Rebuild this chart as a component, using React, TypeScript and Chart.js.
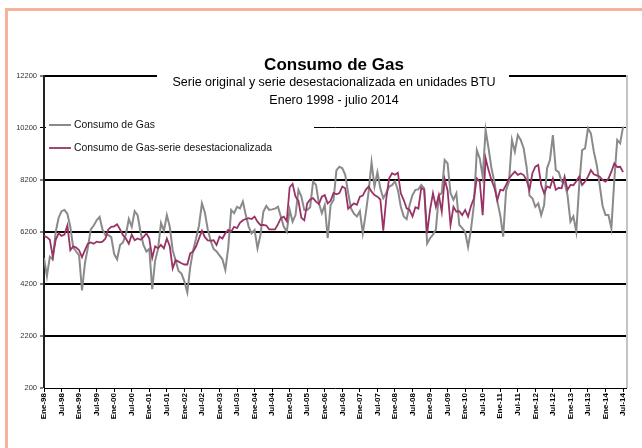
import React, { useEffect, useRef } from "react";
import { Chart, registerables } from "chart.js";

Chart.register(...registerables);

const MONTHS = ["Ene", "Feb", "Mar", "Abr", "May", "Jun", "Jul", "Ago", "Sep", "Oct", "Nov", "Dic"];
const START_YEAR = 1998;
const Y_MIN = 200;
const Y_MAX = 12200;
const Y_STEP = 2000;
const X_STEP = 6;

const TITLE = "Consumo de Gas";
const SUBTITLE = ["Serie original y serie desestacionalizada en unidades BTU", "Enero 1998 - julio 2014"];
const LEGEND = ["Consumo de Gas", "Consumo de Gas-serie desestacionalizada"];

// Enero 1998 .. julio 2014 (199 meses)
const consumo = [
  5200, 4500, 5250, 5150, 6200, 6750, 7000, 7050, 6900, 6400, 5600, 5450,
  5300, 3950, 5000, 5600, 6300, 6450, 6650, 6780, 6300, 6080, 6080, 6000,
  5350, 5150, 5700, 5800, 6100, 6700, 6400, 7000, 6850, 6200, 5700, 5450,
  5550, 4000, 5100, 5550, 6550, 6250, 6850, 6400, 5500, 5100, 4700, 4600,
  4300, 3880, 4850, 5500, 5950, 6450, 7300, 6950, 6300, 5850, 5550, 5450,
  5300, 5150, 4740, 5600, 7050, 6920, 7170, 7110, 7370, 6850, 6400, 6150,
  6280, 5570, 6080, 6980, 7200, 7050, 7070, 7100, 7170, 6790, 6400, 6210,
  7050, 6600, 6850, 7820, 7560, 7050, 7050, 7150, 8140, 8010, 7300, 6920,
  7240, 5960, 7240, 7430, 8580, 8710, 8650, 8400, 7700, 7100, 6900, 6800,
  7000, 6150, 6900, 7750, 8880, 7950, 8500, 7880, 7500, 7700, 7950, 8000,
  8150, 7820, 7170, 6800, 6700, 7240, 7620, 7820, 7840, 8010, 7880, 5760,
  5960, 6100, 6300, 7600, 7700, 8970, 8840, 7690, 7440, 7690, 6470, 6350,
  6200, 5620, 6300, 7240, 9350, 9030, 8330, 10120, 9420, 8650, 8140, 7370,
  6850, 6020, 7800, 8140, 9740, 9290, 9930, 9740, 9420, 8710, 7600, 7500,
  7170, 7300, 6850, 7240, 8650, 8970, 9930, 8580, 8500, 8140, 8100, 7620,
  6600, 6800, 6210, 8000, 9350, 9420, 10190, 9990, 9290, 8780, 8000, 7200,
  6850, 6850, 6340, 8200, 9740, 9610, 10250,
];

const desestacionalizada = [
  6050, 6000, 5900, 5250, 5900, 6150, 6050, 6100, 6450, 5500, 5650, 5600,
  5500, 5230, 5500, 5750, 5800, 5750, 5830, 5800, 5830, 5950, 6300, 6400,
  6420, 6500, 6300, 6080, 5950, 5750, 6100, 5880, 5950, 5900, 6000, 6150,
  5950, 5200, 5650, 5570, 5700, 5570, 5950, 5650, 4800, 5120, 5060, 5000,
  4950, 4950, 5380, 5450, 5650, 5950, 6250, 6000, 5880, 5870, 5880, 5700,
  6020, 5950, 6150, 6280, 6220, 6400, 6350, 6550, 6650, 6700, 6730, 6700,
  6790, 6600, 6470, 6470, 6450, 6300, 6300, 6300, 6500, 6730, 6790, 6620,
  7920, 8050, 7560, 7400, 6750, 6650, 7300, 7450, 7500, 7370, 7280, 7560,
  7620, 7300, 7400, 7700, 7650, 7700, 7950, 7880, 7100, 7200, 7300, 7250,
  7560, 7600, 7820, 7950, 7750, 7620, 7560, 7450, 6250, 7450, 8260, 8460,
  8400, 8480, 7690, 7430, 7110, 7050, 6800, 7150, 7100, 7900, 7820, 6150,
  7050, 7690, 7170, 7620, 6980, 8230, 7800, 6470, 7170, 6980, 7000, 6850,
  7050, 6790, 7200, 7500, 8260, 8140, 6850, 9030, 8580, 8200, 7900, 7430,
  7820, 7800, 8010, 8260, 8400, 8520, 8400, 8450, 8390, 8200, 7820, 8460,
  8710, 8780, 8010, 7690, 7950, 7900, 8260, 7820, 7900, 7880, 8330, 7820,
  8010, 8000, 8150, 8330, 8010, 8140, 8330, 8580, 8420, 8380, 8330, 8200,
  8140, 8250, 8520, 8840, 8700, 8710, 8500,
];

const GRAY = "#8a8a8a";
const PURPLE = "#993366";
const FONT = '"Liberation Sans", Arial, sans-serif';

function monthLabel(i: number): string {
  const y = START_YEAR + Math.floor(i / 12);
  return MONTHS[i % 12] + "-" + String(y % 100).padStart(2, "0");
}

const overlay = {
  id: "overlay",
  beforeDatasetsDraw(chart: any) {
    const { ctx, chartArea } = chart;
    ctx.save();
    // right border of plot area
    ctx.strokeStyle = "#c4c4c4";
    ctx.lineWidth = 2;
    ctx.beginPath();
    ctx.moveTo(chartArea.right + 1, chartArea.top - 1);
    ctx.lineTo(chartArea.right + 1, chartArea.bottom);
    ctx.stroke();
    // title box
    ctx.fillStyle = "#ffffff";
    ctx.fillRect(157, 50, 352, 60);
    // legend box
    ctx.fillRect(chartArea.left + 2, 113, 268, 46);
    // title texts
    ctx.fillStyle = "#000";
    ctx.textAlign = "center";
    ctx.textBaseline = "middle";
    ctx.font = "bold 17px " + FONT;
    ctx.fillText(TITLE, 334, 65);
    ctx.font = "12.5px " + FONT;
    ctx.fillText(SUBTITLE[0], 334, 83);
    ctx.fillText(SUBTITLE[1], 334, 101);
    // legend
    const items = [
      { text: LEGEND[0], color: GRAY, y: 125, w: 2 },
      { text: LEGEND[1], color: PURPLE, y: 148, w: 1.8 },
    ];
    ctx.textAlign = "left";
    ctx.font = "10.4px " + FONT;
    for (const it of items) {
      ctx.strokeStyle = it.color;
      ctx.lineWidth = it.w;
      ctx.beginPath();
      ctx.moveTo(49, it.y);
      ctx.lineTo(71, it.y);
      ctx.stroke();
      ctx.fillStyle = "#111";
      ctx.fillText(it.text, 74, it.y);
    }
    ctx.restore();
  },
};

export default function App() {
  const ref = useRef<HTMLCanvasElement>(null);
  useEffect(() => {
    const canvas = ref.current!;
    const pts = (arr: number[]) => arr.map((v, i) => ({ x: i, y: v }));
    const chart = new Chart(canvas, {
      type: "line",
      data: {
        datasets: [
          {
            label: LEGEND[1],
            data: pts(desestacionalizada),
            borderColor: PURPLE,
            backgroundColor: PURPLE,
            borderWidth: 1.8,
            pointRadius: 0,
            tension: 0,
            order: 0,
          },
          {
            label: LEGEND[0],
            data: pts(consumo),
            borderColor: GRAY,
            backgroundColor: GRAY,
            borderWidth: 2,
            pointRadius: 0,
            tension: 0,
            order: 1,
          },
        ],
      },
      options: {
        responsive: false,
        animation: false,
        devicePixelRatio: 1,
        layout: { padding: { left: 0, top: 76, right: 16, bottom: 0 } },
        plugins: {
          legend: { display: false },
          title: { display: false },
          tooltip: { enabled: false },
        },
        scales: {
          x: {
            type: "linear",
            min: 0,
            max: consumo.length,
            afterFit: (s: any) => {
              s.height = 60;
            },
            grid: {
              display: true,
              drawOnChartArea: false,
              drawTicks: true,
              tickLength: 4,
              color: "#000",
              lineWidth: 1,
            },
            border: { display: true, color: "#000", width: 1 },
            ticks: {
              stepSize: X_STEP,
              includeBounds: false,
              autoSkip: false,
              maxRotation: 90,
              minRotation: 90,
              padding: 1,
              color: "#000",
              font: { family: FONT, size: 8, weight: "bold" },
              callback: (v: any) => {
                const n = Number(v);
                return Number.isInteger(n) && n % X_STEP === 0 ? monthLabel(n) : null;
              },
            },
          },
          y: {
            min: Y_MIN,
            max: Y_MAX,
            afterFit: (s: any) => {
              s.width = 44;
            },
            grid: {
              color: "#000",
              lineWidth: (c: any) => {
                const v = c.tick ? c.tick.value : 0;
                if (v === Y_MIN) return 0;
                if (v === 10200) return 1;
                return 2;
              },
              tickLength: 4,
              tickWidth: 1,
              tickColor: "#000",
            },
            border: { display: true, color: "#222", width: 2 },
            ticks: {
              stepSize: Y_STEP,
              padding: 3,
              color: "#333",
              font: { family: FONT, size: 7.5 },
              callback: (v: any) => String(v),
            },
          },
        },
      } as any,
      plugins: [overlay],
    });
    return () => chart.destroy();
  }, []);

  return (
    <div
      style={{
        position: "fixed",
        left: 0,
        top: 0,
        width: 642,
        height: 448,
        background: "#fff",
        overflow: "hidden",
      }}
    >
      <div
        style={{
          position: "absolute",
          left: 5,
          top: 8,
          width: 700,
          height: 500,
          border: "3px solid #f7b29a",
          boxSizing: "border-box",
        }}
      />
      <canvas
        ref={ref}
        width={642}
        height={448}
        style={{ position: "absolute", left: 0, top: 0, width: 642, height: 448 }}
      />
    </div>
  );
}
